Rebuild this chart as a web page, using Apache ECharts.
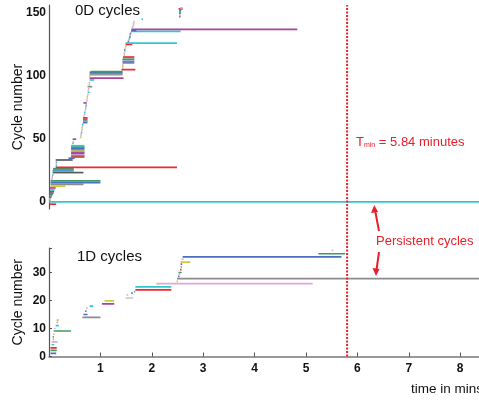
<!DOCTYPE html>
<html><head><meta charset="utf-8">
<script src="https://cdn.jsdelivr.net/npm/echarts@6/dist/echarts.min.js"></script>
<style>html,body{margin:0;padding:0;background:#fff}#c{width:479px;height:400px}</style>
</head><body><div id="c"></div>
<script>
// ---------- DATA ----------
// 0D cycles: cycle number, birth time, death time (mins)
const zeroDCycle = [-1.8,0,1.5,2.5,3.7,4.8,6.0,7.1,8.3,9.5,11.1,12.5,14.0,15.3,16.7,17.8,19.0,20.2,21.4,23.3,24.8,25.6,26.4,27.5,28.8,30.2,31.6,33.3,34.7,
  35.6,36.6,37.6,38.6,39.6,40.6,41.6,42.6,43.6,44.6,46.5,47.5,49.8,
  51.2,52.5,53.8,55.1,56.4,57.7,59.0,60.3,61.6,63.0,64.3,65.5,66.7,
  68.2,69.6,71.0,72.4,73.8,75.2,76.5,77.6,78.6,80.2,81.8,83.4,85.0,87.0,88.5,89.8,91.5,93.0,94.5,96.8,98.2,99.6,100.8,101.6,102.8,103.4,
  105.0,106.3,107.6,108.9,110.3,111.3,112.3,113.3,115.0,116.4,117.8,119.2,120.6,122.0,123.4,125.0,126.0,
  127.4,128.6,129.8,131.0,132.2,133.4,134.5,135.3,136.0,137.0,138.4,139.6,140.8,142.0,143.2,145.0,
  147.0,148.0,149.0,150.0,151.0,152.0,153.2,154.0];
const zeroDBirth = [0.01,0,0,0,0,0.01,0.01,0.01,0.01,0.02,0.02,0.03,0.03,0.03,0.03,0.04,0.05,0.05,0.06,0.07,0.07,0.08,0.08,0.13,0.13,0.13,0.13,0.13,0.38,
  0.43,0.43,0.43,0.43,0.43,0.43,0.43,0.43,0.43,0.43,0.45,0.46,0.46,
  0.6,0.61,0.61,0.62,0.62,0.63,0.63,0.64,0.64,0.66,0.66,0.66,0.66,
  0.67,0.68,0.68,0.69,0.7,0.7,0.71,0.71,0.67,0.72,0.73,0.73,0.74,0.75,0.75,0.76,0.75,0.77,0.77,0.79,0.79,0.78,0.79,0.79,0.79,0.81,
  1.41,1.42,1.42,1.42,1.43,1.43,1.43,1.43,1.44,1.45,1.45,1.46,1.46,1.47,1.48,1.49,1.49,
  1.53,1.54,1.55,1.56,1.56,1.57,1.58,1.60,1.60,1.60,1.61,1.62,1.63,1.63,1.64,1.80,
  2.53,2.53,2.53,2.53,2.53,2.53,2.52,2.55];
const zeroDDeath = [0.14,8.4,0.03,0.04,0.05,0.06,0.08,0.09,0.10,0.11,0.13,0.32,0.67,1.00,1.00,0.06,0.07,0.07,0.08,0.67,0.48,0.48,0.48,2.49,0.15,0.15,0.16,0.46,0.50,
  0.69,0.69,0.69,0.69,0.69,0.69,0.69,0.69,0.69,0.69,0.48,0.48,0.53,
  0.62,0.63,0.63,0.64,0.64,0.65,0.65,0.66,0.66,0.75,0.75,0.75,0.75,
  0.69,0.70,0.70,0.71,0.72,0.72,0.73,0.73,0.73,0.74,0.75,0.75,0.76,0.79,0.77,0.78,0.84,0.79,0.79,0.88,1.45,0.80,1.43,1.43,1.43,1.43,
  1.68,1.44,1.44,1.44,1.66,1.66,1.66,1.66,1.66,1.47,1.47,1.48,1.48,1.49,1.50,1.62,2.49,
  1.55,1.56,1.57,1.58,1.58,1.59,1.60,2.56,1.70,4.83,1.64,1.64,1.65,1.65,1.66,1.82,
  2.56,2.56,2.56,2.57,2.57,2.57,2.60,2.60];
// 1D cycles
const oneDCycle = [1.1,2.2,3.1,4.2,5.2,6.1,7.0,8.0,9.1,10.0,11.0,12.2,13.0,14.0,15.0,16.2,17.3,18.0,18.8,19.9,20.9,22.0,22.6,23.2,23.8,24.9,26.0,26.8,27.8,28.6,29.4,30.0,31.0,32.0,33.0,33.7,34.8,35.6,36.7,37.9];
const oneDBirth = [0.03,0.03,0.03,0.05,0.05,0.07,0.07,0.08,0.09,0.10,0.13,0.14,0.15,0.65,0.67,0.70,0.72,0.79,1.03,1.08,1.49,1.51,1.60,1.65,1.68,1.68,2.09,2.48,2.49,2.51,2.52,2.52,2.55,2.56,2.56,2.56,2.58,2.60,5.24,5.50];
const oneDDeath = [0.14,0.15,0.15,0.10,0.17,0.09,0.09,0.10,0.43,0.12,0.19,0.18,0.19,1.00,0.75,0.73,0.74,0.86,1.27,1.27,1.64,1.53,1.62,1.67,2.38,2.38,5.13,2.51,8.4,2.54,2.55,2.58,2.57,2.58,2.59,2.75,2.62,5.69,5.76,5.52];
const zeroDTicks = [0,50,100,150];
const oneDTicks = [0,10,20,30];
const timeTicks = [1,2,3,4,5,6,7,8];
const tMinDrawn = 5.8;      // position of threshold line
const tMinText = '5.84';

// ---------- STYLES ----------
const P = {b:'#4b6fc0', g:'#3c9b62', r:'#ec2a2e', c:'#33c6cf', p:'#a8449e', y:'#cccc44', k:'#8c8c8c', l:'#c4c4c4', pk:'#e0a6dc', d:'#5a5a5a', v:'#a8aee0'};
const zeroDColour = ['r','c','k','l','p','k','g','b','r','c','p','y','k','b','g','pk','l','pk','c','d','b','c','g','r','c','pk','c','d','b',
  'g','r','pk','b','p','y','k','b','g','c','c','pk','p',
  'y','l','pk','c','l','pk','y','l','c','b','k','g','r',
  'l','pk','c','l','pk','y','c','l','p','pk','l','y','pk','c','l','pk','k','l','y','c','p','y','v','k','b','g',
  'r','pk','y','l','k','b','v','g','r','l','pk','y','b','l','y','r','c',
  'b','pk','c','b','l','b','pk','c','b','p','pk','l','pk','y','pk','c',
  'p','y','l','b','c','g','r','pk'];
const oneDColour = ['b','g','r','c','pk','y','k','l','g','pk','c','pk','y','k','b','g','pk','c','p','y','l','l','b','c','r','c','pk','y','k','b','l','g','r','c','p','y','l','b','g','pk'];
const X_MAX = 430/51.4;
const FONT = "'Liberation Sans', Arial, Helvetica, sans-serif";

function makeRender(colours, h){
  return function(params, api){
    const y = api.value(0), s = api.value(1), e = api.value(2);
    const p1 = api.coord([s, y]), p2 = api.coord([e, y]);
    const w = Math.max(p2[0]-p1[0], 1.5);
    const key = colours[params.dataIndex];
    return {type:'rect', shape:{x:p1[0], y:p1[1]-h/2, width:w, height:h},
      style:{fill:P[key]}};
  };
}

const chart = echarts.init(document.getElementById('c'), null, {renderer:'canvas'});
const yLabel = {fontFamily:FONT, fontWeight:'bold', fontSize:12, color:'#111', margin:3};
chart.setOption({
  animation:false,
  grid:[
    {left:49, top:5, width:430, height:204, outerBoundsMode:'none', containLabel:false},
    {left:49, top:248, width:430, height:108.5, outerBoundsMode:'none', containLabel:false},
    {left:49, top:5, width:430, height:351.5, outerBoundsMode:'none', containLabel:false}
  ],
  xAxis:[
    {gridIndex:0, type:'value', min:0, max:X_MAX, show:false},
    {gridIndex:1, type:'value', min:0, max:X_MAX, interval:1,
      axisLine:{show:true, onZero:false, lineStyle:{color:'#777', width:1.5}},
      axisTick:{show:true, inside:true, length:4, customValues:timeTicks, lineStyle:{color:'#555'}},
      axisLabel:{fontFamily:FONT, fontWeight:'bold', fontSize:12, color:'#111', margin:6, customValues:timeTicks},
      splitLine:{show:false}},
    {gridIndex:2, type:'value', min:0, max:X_MAX, show:false}
  ],
  yAxis:[
    {gridIndex:0, type:'value', min:-5.6, max:156.3,
      name:'Cycle number', nameLocation:'middle', nameGap:24, nameRotate:90, nameMoveOverlap:false,
      nameTextStyle:{fontFamily:FONT, fontSize:14, color:'#111'},
      axisLine:{show:true, onZero:false, lineStyle:{color:'#555', width:1.2}},
      axisTick:{show:false},
      axisLabel:Object.assign({customValues:zeroDTicks}, yLabel),
      splitLine:{show:false}},
    {gridIndex:1, type:'value', min:0, max:38.75, interval:10,
      name:'Cycle number', nameLocation:'middle', nameGap:24, nameRotate:90, nameMoveOverlap:false,
      nameTextStyle:{fontFamily:FONT, fontSize:14, color:'#111'},
      axisLine:{show:true, onZero:false, lineStyle:{color:'#555', width:1.2}},
      axisTick:{show:true, inside:true, length:3, lineStyle:{color:'#555'}},
      axisLabel:Object.assign({customValues:oneDTicks}, yLabel),
      splitLine:{show:false}},
    {gridIndex:2, type:'value', min:0, max:1, show:false}
  ],
  series:[
    {type:'custom', xAxisIndex:0, yAxisIndex:0, clip:true,
      renderItem:makeRender(zeroDColour, 1.7),
      encode:{x:[1,2], y:0},
      data:zeroDCycle.map((v,i)=>[v, zeroDBirth[i], zeroDDeath[i]])},
    {type:'custom', xAxisIndex:1, yAxisIndex:1, clip:true,
      renderItem:makeRender(oneDColour, 1.7),
      encode:{x:[1,2], y:0},
      data:oneDCycle.map((v,i)=>[v, oneDBirth[i], oneDDeath[i]])},
    {type:'line', xAxisIndex:2, yAxisIndex:2, symbol:'none', silent:true,
      lineStyle:{color:'#e8202a', width:2, type:[2,1.5]},
      data:[[tMinDrawn,0],[tMinDrawn,1]]}
  ],
  graphic:[
    {type:'text', left:75, top:3, style:{text:'0D cycles', font:'15px '+FONT, fill:'#111'}},
    {type:'text', left:77, top:249, style:{text:'1D cycles', font:'15px '+FONT, fill:'#111'}},
    {type:'text', left:411, top:382, style:{text:'time in mins', font:'13.5px '+FONT, fill:'#111'}},
    {type:'text', left:356, top:136, style:{
      text:'{a|T}{s|min}{a| = '+tMinText+' minutes}',
      rich:{a:{fontSize:13, fontFamily:FONT, fill:'#e8202a', color:'#e8202a'},
            s:{fontSize:7, fontFamily:FONT, fill:'#e8202a', color:'#e8202a', verticalAlign:'bottom', padding:[6,0,0,0]}}}},
    {type:'text', left:376, top:235, style:{text:'Persistent cycles', font:'13px '+FONT, fill:'#e8202a'}},
    {type:'line', shape:{x1:379, y1:231, x2:375, y2:210}, style:{stroke:'#e8202a', lineWidth:2}},
    {type:'polygon', shape:{points:[[374.3,205],[371,213],[378,212]]}, style:{fill:'#e8202a'}},
    {type:'line', shape:{x1:379, y1:252, x2:376.5, y2:270}, style:{stroke:'#e8202a', lineWidth:2}},
    {type:'polygon', shape:{points:[[376,276],[372.5,268],[379.5,269]]}, style:{fill:'#e8202a'}}
  ]
});
</script></body></html>
